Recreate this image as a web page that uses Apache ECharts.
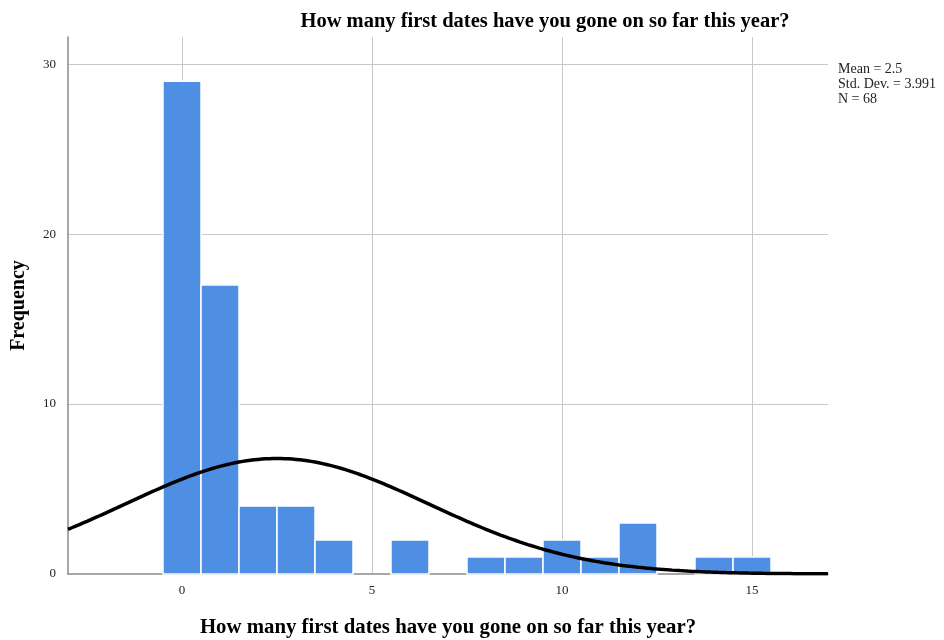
<!DOCTYPE html>
<html>
<head>
<meta charset="utf-8">
<script src="https://cdn.jsdelivr.net/npm/echarts@6/dist/echarts.min.js"></script>
<style>
  html, body { margin: 0; padding: 0; background: #fff; }
  #chart { width: 944px; height: 640px; }
</style>
</head>
<body>
<div id="chart"></div>
<script>
// Number of first dates reported (integer bins) and how many respondents gave each
const dateCounts = [0, 1, 2, 3, 4, 5, 6, 7, 8, 9, 10, 11, 12, 13, 14, 15];
const frequencies = [29, 17, 4, 4, 2, 0, 2, 0, 1, 1, 2, 1, 3, 0, 1, 1];

// Summary statistics printed beside the plot
const sampleMean = 2.5;
const sampleSD = 3.991;
const sampleN = 68;

// Axis ticks
const xTicks = [0, 5, 10, 15];
const yTicks = [0, 10, 20, 30];

const titleText = 'How many first dates have you gone on so far this year?';
const serif = '"Liberation Serif", "Times New Roman", serif';

// Normal curve scaled to counts (bin width 1) using the stated mean, SD and N
const xMin = -3, xMax = 17;
const normalCurve = [];
for (let i = 0; i <= 200; i++) {
  const x = xMin + i * (xMax - xMin) / 200;
  const z = (x - sampleMean) / sampleSD;
  const y = sampleN * Math.exp(-0.5 * z * z) / (sampleSD * Math.sqrt(2 * Math.PI));
  normalCurve.push([x, y]);
}

const barData = dateCounts.map((d, i) => [d, frequencies[i]]);

const chart = echarts.init(document.getElementById('chart'), null, { renderer: 'canvas' });

const gridColor = '#c8c8c8';
const axisColor = '#8a8a8a';

chart.setOption({
  animation: false,
  backgroundColor: '#ffffff',
  title: {
    text: titleText,
    left: 540,
    top: 6,
    textAlign: 'center',
    textStyle: { fontFamily: serif, fontWeight: 'bold', fontSize: 20.5, color: '#000' }
  },
  grid: { left: 68, right: 116, top: 37, bottom: 66, outerBoundsMode: 'none', containLabel: false },
  xAxis: {
    type: 'value',
    min: xMin,
    max: xMax,
    name: titleText,
    nameLocation: 'middle',
    nameGap: 43,
    nameTextStyle: { fontFamily: serif, fontWeight: 'bold', fontSize: 20.8, color: '#000' },
    axisLine: { show: true, onZero: false, lineStyle: { color: axisColor, width: 1.5 } },
    axisTick: { show: false },
    splitLine: { show: false },
    axisLabel: {
      customValues: xTicks,
      margin: 10,
      fontFamily: serif,
      fontSize: 13,
      color: '#222'
    }
  },
  yAxis: {
    type: 'value',
    min: 0,
    max: 31.6,
    name: 'Frequency',
    nameLocation: 'middle',
    nameGap: 39,
    nameRotate: 90,
    nameTextStyle: { fontFamily: serif, fontWeight: 'bold', fontSize: 20, color: '#000' },
    axisLine: { show: true, onZero: false, lineStyle: { color: axisColor, width: 1.5 } },
    axisTick: { show: false },
    splitLine: { show: false },
    axisLabel: {
      customValues: yTicks,
      margin: 12,
      fontFamily: serif,
      fontSize: 13,
      color: '#222'
    }
  },
  graphic: [{
    type: 'text',
    left: 838,
    top: 62,
    style: {
      text: 'Mean = ' + sampleMean + '\nStd. Dev. = ' + sampleSD + '\nN = ' + sampleN,
      font: '14px ' + serif,
      lineHeight: 15,
      fill: '#222'
    }
  }],
  series: [
    {
      // reference grid lines drawn behind the bars
      type: 'line',
      data: [],
      z: 0,
      silent: true,
      markLine: {
        z: 0,
        silent: true,
        symbol: 'none',
        label: { show: false },
        lineStyle: { color: gridColor, type: 'solid', width: 1 },
        data: xTicks.map(v => ({ xAxis: v }))
          .concat(yTicks.filter(v => v > 0).map(v => ({ yAxis: v })))
      }
    },
    {
      type: 'custom',
      z: 10,
      data: barData,
      renderItem: function (params, api) {
        const x = api.value(0);
        const y = api.value(1);
        if (!y) return null;
        const p0 = api.coord([x - 0.5, y]);
        const p1 = api.coord([x + 0.5, 0]);
        return {
          type: 'rect',
          shape: { x: p0[0], y: p0[1], width: p1[0] - p0[0], height: p1[1] - p0[1] },
          style: { fill: '#4f8fe3', stroke: '#ffffff', lineWidth: 1.5 }
        };
      }
    },
    {
      type: 'line',
      z: 11,
      data: normalCurve,
      showSymbol: false,
      smooth: false,
      clip: true,
      lineStyle: { color: '#000', width: 3.5 }
    }
  ]
});
</script>
</body>
</html>
